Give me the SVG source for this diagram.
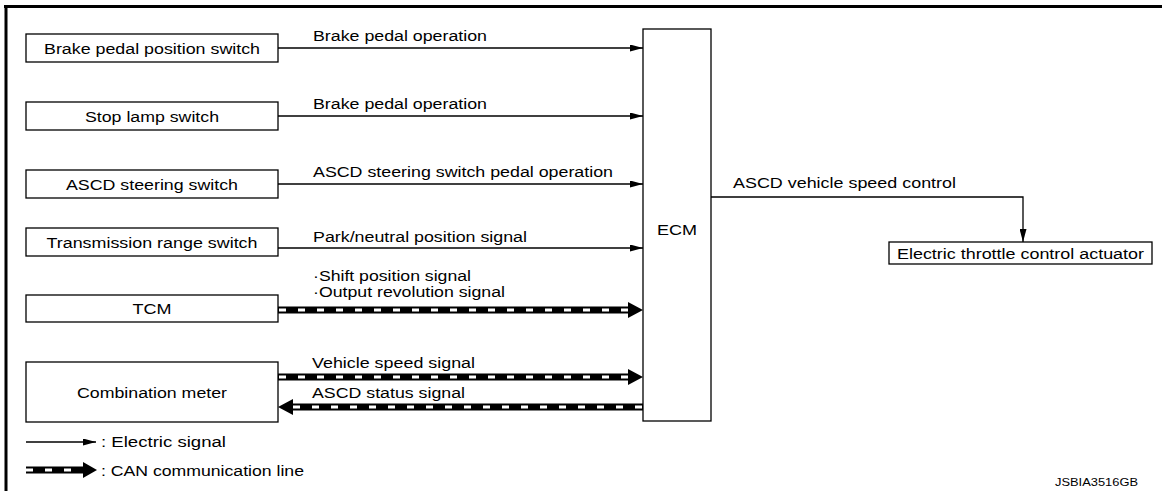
<svg xmlns="http://www.w3.org/2000/svg" width="1162" height="491" viewBox="0 0 1162 491">
<style>
.t{font-family:"Liberation Sans",Arial,sans-serif;font-size:15.5px;fill:#000}
.c{text-anchor:middle}
.box{fill:#fff;stroke:#000;stroke-width:1.3}
.el{stroke:#000;stroke-width:1.3;fill:none}
.canb{stroke:#000;stroke-width:7;fill:none}
.canw{stroke:#fff;stroke-width:3;fill:none;stroke-dasharray:7 12}
</style>
<defs>
<marker id="arr" markerWidth="13" markerHeight="7" refX="13" refY="3.5" orient="auto" markerUnits="userSpaceOnUse">
<path d="M0,0 L13,3.5 L0,7 z" fill="#000"/>
</marker>
</defs>
<rect width="1162" height="491" fill="#fff"/>
<g id="frame">
<line x1="4" y1="6.5" x2="1162" y2="6.5" stroke="#000" stroke-width="3"/>
<line x1="6" y1="5" x2="6" y2="491" stroke="#000" stroke-width="3"/>
</g>
<g id="connectors">
<line class="el" x1="278" y1="48" x2="643" y2="48" marker-end="url(#arr)"/>
<line class="el" x1="278" y1="116" x2="643" y2="116" marker-end="url(#arr)"/>
<line class="el" x1="278" y1="184" x2="643" y2="184" marker-end="url(#arr)"/>
<line class="el" x1="278" y1="248" x2="643" y2="248" marker-end="url(#arr)"/>
<path class="el" d="M711,197 H1023 V242" marker-end="url(#arr)"/>
<line class="canb" x1="278" y1="310" x2="630" y2="310"/>
<line class="canw" x1="279" y1="310" x2="628" y2="310"/>
<polygon points="628,302 643,310 628,318" fill="#000"/>
<line class="canb" x1="278" y1="377" x2="630" y2="377"/>
<line class="canw" x1="279" y1="377" x2="628" y2="377"/>
<polygon points="628,369 643,377 628,385" fill="#000"/>
<line class="canb" x1="291" y1="407" x2="643" y2="407"/>
<line class="canw" x1="293" y1="407" x2="643" y2="407"/>
<polygon points="293,399 278,407 293,415" fill="#000"/>
</g>
<g id="labels">
<text class="t" x="313" y="41" textLength="174" lengthAdjust="spacingAndGlyphs">Brake pedal operation</text>
<text class="t" x="313" y="109" textLength="174" lengthAdjust="spacingAndGlyphs">Brake pedal operation</text>
<text class="t" x="313" y="177" textLength="300" lengthAdjust="spacingAndGlyphs">ASCD steering switch pedal operation</text>
<text class="t" x="313" y="242" textLength="214" lengthAdjust="spacingAndGlyphs">Park/neutral position signal</text>
<text class="t" x="313" y="281" textLength="158" lengthAdjust="spacingAndGlyphs">·Shift position signal</text>
<text class="t" x="313" y="297" textLength="192" lengthAdjust="spacingAndGlyphs">·Output revolution signal</text>
<text class="t" x="312" y="368" textLength="163" lengthAdjust="spacingAndGlyphs">Vehicle speed signal</text>
<text class="t" x="312" y="398" textLength="153" lengthAdjust="spacingAndGlyphs">ASCD status signal</text>
<text class="t" x="733" y="188" textLength="223" lengthAdjust="spacingAndGlyphs">ASCD vehicle speed control</text>
</g>
<g id="n-brake-pedal-position-switch">
<rect class="box" x="26" y="34" width="252" height="28"/>
<text class="t c" x="152" y="54" textLength="216" lengthAdjust="spacingAndGlyphs">Brake pedal position switch</text>
</g>
<g id="n-stop-lamp-switch">
<rect class="box" x="26" y="102" width="252" height="28"/>
<text class="t c" x="152" y="122" textLength="134" lengthAdjust="spacingAndGlyphs">Stop lamp switch</text>
</g>
<g id="n-ascd-steering-switch">
<rect class="box" x="26" y="170" width="252" height="28"/>
<text class="t c" x="152" y="190" textLength="172" lengthAdjust="spacingAndGlyphs">ASCD steering switch</text>
</g>
<g id="n-transmission-range-switch">
<rect class="box" x="26" y="228" width="252" height="28"/>
<text class="t c" x="152" y="248" textLength="211" lengthAdjust="spacingAndGlyphs">Transmission range switch</text>
</g>
<g id="n-tcm">
<rect class="box" x="26" y="295" width="252" height="27"/>
<text class="t c" x="152" y="314" textLength="39" lengthAdjust="spacingAndGlyphs">TCM</text>
</g>
<g id="n-combination-meter">
<rect class="box" x="26" y="362" width="252" height="60"/>
<text class="t c" x="152" y="398" textLength="150" lengthAdjust="spacingAndGlyphs">Combination meter</text>
</g>
<g id="n-ecm">
<rect class="box" x="643" y="29" width="68" height="392"/>
<text class="t c" x="677" y="235" textLength="40" lengthAdjust="spacingAndGlyphs">ECM</text>
</g>
<g id="n-electric-throttle-control-actuator">
<rect class="box" x="889" y="242" width="263" height="22"/>
<text class="t c" x="1020.5" y="259" textLength="247" lengthAdjust="spacingAndGlyphs">Electric throttle control actuator</text>
</g>
<g id="legend">
<line class="el" x1="26" y1="442" x2="96" y2="442" marker-end="url(#arr)"/>
<text class="t" x="101" y="447" textLength="125" lengthAdjust="spacingAndGlyphs">: Electric signal</text>
<line class="canb" x1="26" y1="470" x2="85" y2="470"/>
<line class="canw" x1="26" y1="470" x2="83" y2="470"/>
<polygon points="83,462 97,470 83,478" fill="#000"/>
<text class="t" x="101" y="476" textLength="203" lengthAdjust="spacingAndGlyphs">: CAN communication line</text>
</g>
<text class="t" x="1055" y="486" style="font-size:11px" textLength="83" lengthAdjust="spacingAndGlyphs">JSBIA3516GB</text>
</svg>
